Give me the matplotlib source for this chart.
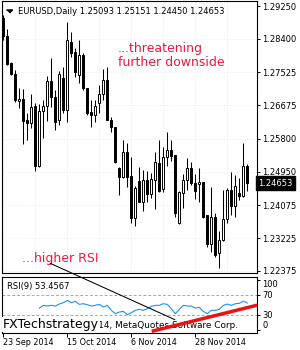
import matplotlib
matplotlib.use("Agg")
import matplotlib.pyplot as plt
from matplotlib.patches import ConnectionPatch
import matplotlib.transforms as mtransforms
import numpy as np

# ---------------- data ----------------
symbol = "EURUSD"
timeframe = "Daily"

opens = [1.28939, 1.28472, 1.27772, 1.27486, 1.26786, 1.26838, 1.26293, 1.26215,
         1.26656, 1.25099, 1.26526, 1.26656, 1.27305, 1.26889, 1.26293, 1.27382,
         1.26552, 1.28316, 1.28057, 1.27460, 1.27979, 1.27123, 1.26500, 1.26422,
         1.26734, 1.26967, 1.27330, 1.26293, 1.26111, 1.25047, 1.24814, 1.25463,
         1.24840, 1.23750, 1.24710, 1.24165, 1.24736, 1.24373, 1.24736, 1.25177,
         1.24503, 1.25333, 1.25514, 1.25385, 1.23620, 1.24399, 1.24736, 1.25047,
         1.24658, 1.24632, 1.24684, 1.23828, 1.23076, 1.23776, 1.22842, 1.23179,
         1.23724, 1.24477, 1.24062, 1.24399, 1.24321, 1.25093]
highs = [1.29017, 1.28654, 1.27797, 1.27590, 1.27123, 1.27097, 1.26474, 1.26967,
         1.26734, 1.26708, 1.26812, 1.27434, 1.27901, 1.27071, 1.27564, 1.27668,
         1.28835, 1.28576, 1.28161, 1.28368, 1.28031, 1.27123, 1.26812, 1.26812,
         1.27201, 1.27616, 1.27668, 1.26371, 1.26111, 1.25073, 1.25774, 1.25696,
         1.25333, 1.24580, 1.25073, 1.24996, 1.24970, 1.24918, 1.25463, 1.25774,
         1.25592, 1.25981, 1.25774, 1.25385, 1.24451, 1.24892, 1.25307, 1.25203,
         1.24892, 1.25047, 1.24684, 1.23828, 1.24554, 1.23880, 1.23413, 1.24477,
         1.24529, 1.24944, 1.24866, 1.24788, 1.25696, 1.25151]
lows = [1.28368, 1.27720, 1.27460, 1.26760, 1.26604, 1.25670, 1.25774, 1.26085,
        1.24970, 1.25073, 1.25826, 1.26267, 1.26630, 1.26033, 1.26163, 1.26474,
        1.26241, 1.27927, 1.27408, 1.27253, 1.27071, 1.26422, 1.26111, 1.26241,
        1.26474, 1.26812, 1.26293, 1.25981, 1.25177, 1.24347, 1.24788, 1.24554,
        1.23620, 1.23543, 1.24165, 1.23932, 1.24165, 1.24269, 1.23984, 1.24425,
        1.24425, 1.25099, 1.25229, 1.23776, 1.23595, 1.24010, 1.24477, 1.24606,
        1.24243, 1.24165, 1.23750, 1.22998, 1.22868, 1.22738, 1.22453, 1.23153,
        1.23620, 1.23828, 1.23776, 1.24217, 1.24295, 1.24450]
closes = [1.28472, 1.27746, 1.27486, 1.26812, 1.26838, 1.26267, 1.26215, 1.26630,
          1.25099, 1.26526, 1.26656, 1.27305, 1.26889, 1.26241, 1.27486, 1.26552,
          1.28368, 1.28031, 1.27538, 1.27979, 1.27123, 1.26474, 1.26422, 1.26656,
          1.26967, 1.27330, 1.26293, 1.26111, 1.25203, 1.24814, 1.25463, 1.24814,
          1.23750, 1.24529, 1.24165, 1.24736, 1.24373, 1.24762, 1.25203, 1.24451,
          1.25333, 1.25514, 1.25359, 1.23880, 1.24425, 1.24736, 1.25047, 1.24658,
          1.24451, 1.24684, 1.23776, 1.23076, 1.23776, 1.22790, 1.23179, 1.23724,
          1.24477, 1.24062, 1.24580, 1.24321, 1.25099, 1.24653]

rsi_period = 9
rsi_values = [43.3, 48.7, 47.3, 48.7, 47.3, 51.3, 54.0, 58.7, 54.0, 56.7, 50.7,
              52.0, 50.0, 47.3, 48.7, 50.7, 45.3, 48.7, 38.7, 32.0, 35.3, 36.7,
              30.0, 34.0, 38.7, 40.7, 38.7, 42.0, 46.7, 48.7, 48.7, 52.0, 50.7,
              42.0, 32.0, 40.7, 48.7, 47.3, 47.3, 43.3, 44.7, 36.7, 32.0, 38.7,
              38.7, 40.7, 48.7, 51.3, 48.7, 52.0, 52.7, 57.3, 53.4567]

price_ticks = [1.29250, 1.28400, 1.27525, 1.26675, 1.25800, 1.24950, 1.24075,
               1.23225, 1.22375]
rsi_ticks = [0, 30, 70, 100]
rsi_levels = [30, 70]
date_tick_idx = [0, 16, 32, 48]
date_tick_labels = ["23 Sep 2014", "15 Oct 2014", "6 Nov 2014", "28 Nov 2014"]

# annotation lines (bar index, value)
price_line_start = (11.7, 1.22575)
rsi_line_end = (42.9, 20.0)
rsi_support = [(37.1, -3.2), (64.0, 50.1)]

# ---------------- figure ----------------
W, H = 300, 350
fig = plt.figure(figsize=(W / 100, H / 100), dpi=100)
fig.patch.set_facecolor("white")

ax = fig.add_axes([2 / W, 1 - 273 / H, 255 / W, 272 / H])
rax = fig.add_axes([2 / W, 1 - 332.5 / H, 255 / W, 56 / H])

n = len(opens)
x = np.arange(n)
o = np.array(opens)
c = np.array(closes)
h = np.array(highs)
l = np.array(lows)
up = c >= o

ax.vlines(x, l, h, color="black", lw=0.75, zorder=2)
ax.bar(x, np.abs(c - o), bottom=np.minimum(o, c), width=0.55,
       color=np.where(up, "white", "black"), edgecolor="black", lw=0.7,
       zorder=3)

ax.set_xlim(-0.325, 63.425)
ax.set_ylim(1.22323, 1.29380)
ax.set_yticks(price_ticks)
ax.set_yticklabels([f"{p:.5f}" for p in price_ticks])
ax.set_xticks(np.arange(0, n, 8))
ax.yaxis.tick_right()
ax.tick_params(axis="y", direction="out", length=2.5, width=0.7, pad=1.5,
               labelsize=6, colors="black")
ax.tick_params(axis="x", length=0, labelbottom=False)
ax.grid(True, color="#ececec", linestyle=":", lw=0.7)
ax.set_axisbelow(True)
for s in ax.spines.values():
    s.set_linewidth(0.8)
    s.set_color("black")

# current price label
trans = mtransforms.blended_transform_factory(ax.transAxes, ax.transData)
ax.text(1.004, c[-1], f"{c[-1]:.5f}", transform=trans, ha="left", va="center",
        color="white", fontsize=6, zorder=10, clip_on=False,
        bbox=dict(facecolor="black", edgecolor="black", pad=1.6))

# header
ax.plot([0.027], [0.963], transform=ax.transAxes, linestyle="none",
        marker=[(-1, 0.5), (1, 0.5), (0, -0.5)], ms=4.4, color="black",
        clip_on=False)
ax.text(0.063, 0.963,
        f"{symbol},{timeframe} {opens[-1]:.5f} {highs[-1]:.5f} {lows[-1]:.5f} {closes[-1]:.5f}",
        transform=ax.transAxes, fontsize=6, ha="left", va="center", color="black")

red_txt = "#F0193C"
ax.text(0.455, 0.826, "...threatening", transform=ax.transAxes, fontsize=9,
        color=red_txt, ha="left", va="center")
ax.text(0.455, 0.775, "further downside", transform=ax.transAxes, fontsize=9,
        color=red_txt, ha="left", va="center")
ax.text(0.078, 0.055, "...higher RSI", transform=ax.transAxes, fontsize=9,
        color=red_txt, ha="left", va="center")

# ---------------- RSI pane ----------------
rx = np.arange(rsi_period, rsi_period + len(rsi_values))
rax.plot(rx, rsi_values, color="#1E90FF", lw=0.8, zorder=3)
for lev in rsi_levels:
    rax.axhline(lev, color="#a8a8a8", lw=0.7, ls=(0, (3, 2)), zorder=1)
rax.set_xlim(-0.325, 63.425)
rax.set_ylim(-5.6, 106.4)
rax.set_yticks(rsi_ticks)
rax.set_yticklabels([str(t) for t in rsi_ticks])
rax.yaxis.tick_right()
rax.tick_params(axis="y", direction="out", length=2.5, width=0.7, pad=1.5,
                labelsize=6)
for lbl, t in zip(rax.get_yticklabels(), rsi_ticks):
    if t == 100:
        lbl.set_va("top")
    elif t == 0:
        lbl.set_va("bottom")
rax.set_xticks(date_tick_idx)
rax.set_xticklabels(date_tick_labels)
rax.tick_params(axis="x", direction="out", length=3, width=0.7, pad=1,
                labelsize=5.8)
for lbl in rax.get_xticklabels():
    lbl.set_ha("left")
for s in rax.spines.values():
    s.set_linewidth(0.8)
    s.set_color("black")

rax.text(0.0196, 0.83, f"RSI({rsi_period}) {rsi_values[-1]:.4f}",
         transform=rax.transAxes, fontsize=6, ha="left", va="center")
rax.text(0.925, 0.08, "2014, MetaQuotes Software Corp.",
         transform=rax.transAxes, fontsize=6.4, ha="right", va="baseline",
         color="black", zorder=2)
rax.text(0.004, 0.08, "FXTechstrategy", transform=rax.transAxes, fontsize=9,
         ha="left", va="baseline", color="black", zorder=4,
         bbox=dict(facecolor="white", edgecolor="none", pad=0.5))

rax.plot([rsi_support[0][0], rsi_support[1][0]],
         [rsi_support[0][1], rsi_support[1][1]],
         color="#EE1111", lw=2.5, zorder=5, solid_capstyle="butt")

con = ConnectionPatch(xyA=price_line_start, coordsA="data", axesA=ax,
                      xyB=rsi_line_end, coordsB="data", axesB=rax,
                      color="black", lw=0.75, zorder=6)
fig.add_artist(con)

fig.savefig("out.png", dpi=100, facecolor="white")
